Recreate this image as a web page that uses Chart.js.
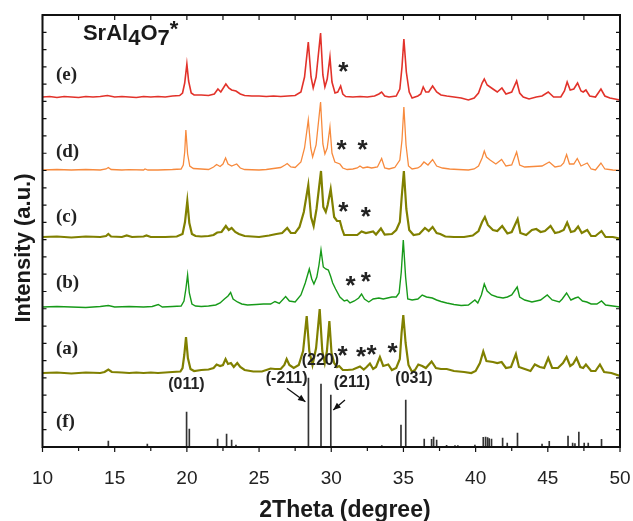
<!DOCTYPE html>
<html>
<head>
<meta charset="utf-8">
<script src="https://cdn.jsdelivr.net/npm/chart.js@4.4.1/dist/chart.umd.min.js"></script>
<style>
  html, body { margin: 0; padding: 0; background: #fff; }
  #wrap { width: 633px; height: 521px; }
</style>
</head>
<body>
<div id="wrap"><canvas id="xrd" width="633" height="521"></canvas></div>
<script>
// XRD patterns, [2theta, intensity above own baseline]
const patternA = [[10,0],[11,0.5],[12,-0.5],[13,0.5],[14,0],[14.3,1],[14.56,3.5],[14.8,1],[15.5,0.5],[16,0],[16.5,0.5],[17,0],[17.5,0.5],[18,0],[18.5,0.5],[19,1],[19.55,1.5],[19.7,5],[19.82,18],[19.94,36],[20.07,15],[20.25,4],[20.5,2],[21,3],[21.5,3.5],[21.85,5],[22.06,8.5],[22.3,7],[22.5,8],[22.68,14],[22.85,9],[23.05,10],[23.25,6],[23.49,10],[23.7,6],[24,3],[24.6,1.5],[25.2,1.5],[25.8,4.5],[26.1,4],[26.5,4],[26.75,8],[26.91,14],[27.1,8],[27.4,5],[27.75,8],[28.05,22],[28.3,57],[28.48,22],[28.7,8],[28.95,25],[29.2,64],[29.38,22],[29.55,10],[29.7,22],[29.87,52],[30.02,20],[30.2,10],[30.4,6],[30.55,7],[30.8,3],[31.1,3],[31.5,3.5],[31.99,6.5],[32.25,3.5],[32.45,6],[32.68,9.5],[32.9,4],[33.1,6],[33.37,16],[33.6,7],[33.95,8.5],[34.2,3],[34.5,5],[34.75,14],[34.87,40],[34.99,58],[35.15,30],[35.35,8],[35.6,1],[35.8,3],[36.03,8.5],[36.3,7],[36.55,5],[36.95,11.5],[37.25,5],[37.6,4],[38,4],[38.5,2],[39.2,1],[39.7,0],[40,2],[40.3,10],[40.53,21.5],[40.75,12],[41.2,11],[41.5,10],[41.8,11],[42.1,5],[42.45,6],[42.79,19],[43,6],[43.4,4],[43.8,2],[44.1,8.5],[44.45,6],[44.75,5],[45.03,15],[45.3,5],[45.7,5],[46.05,10],[46.3,16],[46.55,7],[46.75,9],[46.99,15],[47.25,6],[47.45,5],[47.64,8.5],[48,2],[48.3,2],[48.61,8.5],[48.9,1],[49.4,0],[50,-3]];

const patternB = [[10,0],[11,0.5],[12,0],[13,-0.5],[14,0.5],[14.56,1.5],[15,0],[16,0.5],[17,0],[17.6,0.5],[18.02,2.5],[18.3,0],[19,0.5],[19.6,1],[19.8,6],[19.93,18],[20.05,32],[20.17,14],[20.35,3],[20.6,1],[21,0.5],[21.5,1],[22,2],[22.3,4],[22.6,8],[22.85,11],[23.03,14.5],[23.2,8],[23.5,5],[23.8,3],[24.2,2],[24.8,2.5],[25.3,3],[25.8,3],[26.1,5.5],[26.4,3.5],[26.84,10.5],[27.1,6],[27.5,5],[27.9,12],[28.2,24],[28.48,38],[28.65,28],[28.8,23],[29,30],[29.15,42],[29.29,57],[29.45,40],[29.62,38],[29.8,37],[29.95,31],[30.1,24],[30.3,18],[30.6,10],[30.9,6],[31.1,7],[31.3,4],[31.6,6],[31.9,9],[32.1,13],[32.3,8],[32.6,5],[32.9,8],[33.3,9],[33.6,8],[33.9,9],[34.2,10],[34.5,10],[34.7,14],[34.85,35],[34.99,67],[35.15,30],[35.3,8],[35.6,7],[36,8],[36.3,12],[36.6,10],[37,9],[37.3,7],[37.6,5.5],[38,4],[38.5,2.5],[39,1.5],[39.5,2],[39.95,7],[40.15,4],[40.4,12],[40.6,23],[40.8,16],[41.1,12],[41.5,10],[41.9,9],[42.2,10],[42.5,12],[42.88,20],[43.05,10],[43.4,7],[43.9,5],[44.5,7],[44.96,12],[45.3,7],[45.8,5],[46,8],[46.3,14],[46.6,7],[46.9,9],[47.1,10],[47.4,6],[47.7,5],[48,3],[48.4,3],[48.72,6],[49,2],[49.5,1],[50,0]];

const patternC = [[10,0],[11,0.5],[12,-0.5],[13,0.5],[14,0],[14.4,1],[14.56,3],[14.75,0.5],[15.5,0],[15.83,1.5],[16.2,0],[17,0.5],[17.2,1.5],[17.5,0],[18.5,0],[19.3,0.5],[19.7,3],[19.87,15],[20.03,36],[20.17,14],[20.35,3],[20.6,1],[21,0.5],[21.5,1],[21.85,2],[22.1,4.5],[22.4,5],[22.7,11],[22.9,7],[23.1,9],[23.35,5],[23.6,3],[24,1],[25,0],[25.7,1.5],[26.2,3],[26.6,4],[26.95,9],[27.2,4],[27.5,4],[27.8,10],[28.1,25],[28.41,52],[28.6,20],[28.78,11],[28.98,28],[29.29,66],[29.45,30],[29.62,25],[29.75,32],[29.96,48],[30.2,20],[30.4,16],[30.6,16],[30.75,8],[30.9,2],[31.2,2],[31.8,2],[32.1,5.5],[32.4,4],[32.9,5.5],[33.1,2.5],[33.44,8.5],[33.7,2.5],[34.2,3],[34.5,7],[34.75,15],[34.88,40],[35.03,66],[35.2,28],[35.4,7],[35.7,2],[36.1,3],[36.49,9],[36.75,6],[37.02,10],[37.3,4],[37.55,3],[37.9,0.5],[38.5,0],[39.2,0],[39.8,1.5],[40.2,6],[40.45,15],[40.64,20],[40.85,12],[41.2,7],[41.5,6],[41.84,11],[42.2,3.5],[42.5,5],[42.91,18],[43.1,4],[43.5,2],[43.9,7],[44.2,8],[44.5,5],[44.8,6],[45.19,11],[45.5,4],[45.8,5],[46.1,7],[46.34,14.5],[46.6,5],[46.85,6],[47.1,10.5],[47.35,4],[47.73,7],[48,1],[48.3,1],[48.72,6],[49,0],[49.5,0],[50,-1.5]];

const patternD = [[10,0],[11,0.5],[12,0],[13,0.5],[14,0],[14.4,1],[14.56,2.5],[14.75,0.5],[15.5,0],[16,0.3],[17,0],[17.1,1],[17.3,0],[18,0],[19,0.5],[19.6,1],[19.75,5],[19.85,18],[19.93,40],[20.05,16],[20.2,4],[20.45,1.5],[21,1],[21.5,0.5],[21.85,3],[22.06,5.5],[22.3,3.5],[22.5,6],[22.68,12],[22.85,6],[23.1,4],[23.45,6],[23.7,2],[24,0.5],[25,0],[25.5,0.5],[26,1.5],[26.5,2.5],[26.8,5],[26.95,6.5],[27.2,3],[27.5,2.5],[27.9,8],[28.15,22],[28.41,50],[28.58,22],[28.71,13],[28.95,25],[29.26,68],[29.42,26],[29.56,16],[29.72,22],[29.91,43],[30.05,17],[30.25,8],[30.6,6],[30.8,2],[31.1,0.5],[31.5,1],[31.8,2],[31.99,4],[32.2,2],[32.5,3],[32.8,2],[33.2,3],[33.49,11.5],[33.7,2],[34,1],[34.4,2.5],[34.75,10],[34.9,30],[35.03,63],[35.18,25],[35.35,4],[35.6,1],[36,2],[36.2,4],[36.42,8],[36.7,5],[37.02,10.5],[37.3,4],[37.7,2],[38.2,1],[38.8,0.5],[39.5,0],[39.9,1],[40.2,4],[40.45,12],[40.6,19],[40.75,13],[41,10],[41.4,6],[41.8,10.5],[42.1,4],[42.5,5],[42.84,18],[43.05,5],[43.4,3],[44,3.5],[44.6,4],[45.1,8],[45.5,3],[45.9,4],[46.1,7],[46.3,15.5],[46.5,6],[46.8,6],[47.04,11.5],[47.3,4],[47.73,7],[48,1],[48.3,0],[48.68,7],[48.95,1],[49.5,0],[50,-0.5]];

const patternE = [[10,0],[10.5,0.5],[11,-0.5],[11.5,0.5],[12,0],[12.5,-0.5],[13,0.5],[13.5,0],[14,0.5],[14.5,1.5],[15,0],[15.5,0.5],[16,0],[16.5,-0.5],[17,0.5],[17.5,0],[18,0.5],[18.5,0],[19,1],[19.5,1.5],[19.7,4],[19.85,14],[20,33],[20.12,16],[20.3,4],[20.5,2],[21,2],[21.5,1.5],[21.9,3],[22.15,8],[22.35,5],[22.7,13],[22.9,9],[23.1,7],[23.4,6],[23.7,3],[24,1.5],[24.5,1],[25,1],[25.5,0.5],[26,1],[26.5,0.5],[27,1],[27.5,1.5],[27.9,5],[28.15,20],[28.41,55],[28.6,20],[28.75,9],[28.95,20],[29.26,64],[29.42,22],[29.56,10],[29.72,18],[29.91,40],[30.05,15],[30.26,4],[30.45,5],[30.65,11],[30.8,3],[31,0.5],[31.5,0],[32,0.5],[32.5,0],[33,1],[33.3,3],[33.49,5],[33.7,1],[34,0],[34.5,1],[34.75,8],[34.9,30],[35.03,58],[35.2,25],[35.4,5],[35.6,-1],[36,1],[36.2,3],[36.37,10],[36.55,5],[36.75,5],[37.02,11],[37.3,5],[37.6,2],[38,1],[38.5,0],[39,-1],[39.5,-3],[39.9,-1],[40.2,4],[40.45,14],[40.6,18],[40.8,12],[41.2,8],[41.5,5],[41.82,9],[42.1,3],[42.5,5],[42.84,16],[43.05,4],[43.3,0],[43.7,-2],[44.2,0],[44.6,1],[45.03,5],[45.4,0],[45.9,0],[46.15,6],[46.34,15],[46.55,7],[46.8,8],[47.06,14],[47.3,6],[47.45,5],[47.64,7],[47.9,1],[48.3,0],[48.68,8],[48.95,1],[49.3,-1],[50,-3]];

// reference stick pattern (f)
const refPeaks = [14.56,17.26,19.98,20.17,22.13,22.75,23.1,23.4,28.42,29.29,29.97,33.5,34.83,35.16,36.44,36.95,37.09,37.3,37.99,38.57,38.77,39.95,40.53,40.69,40.83,40.94,41.1,41.87,42.19,42.9,44.6,45.1,46.4,46.72,46.88,47.15,47.52,47.8,48.72];
const refHeights = [6,3,35,18,8,13,7,2,69,63,52,1.5,22,47,8,7.7,10,7,1.7,1.5,1.5,2,9.7,10,9.5,8.5,8,9,4,14,3,5.7,11,4,3.5,15,4,4,7.7];

// vertical offsets of the stacked curves
const seriesNames = ['(a)', '(b)', '(c)', '(d)', '(e)'];
const offsets = [74, 140, 210, 277, 350];
const colors = ['#808000', '#179a19', '#808000', '#f78a3d', '#e2322a'];
const widths = [2.2, 1.4, 2.2, 1.3, 1.6];

const xTicks = [10, 15, 20, 25, 30, 35, 40, 45, 50];
const yMax = 432, yStep = 17.28;

// text decorations, positions in data units
const curveLabels = [['(e)', 372], ['(d)', 295], ['(c)', 230], ['(b)', 164], ['(a)', 98], ['(f)', 25]];
const stars = [[30.83, 382], [30.72, 304], [32.17, 304], [30.83, 242], [32.4, 237], [31.34, 168], [32.4, 172], [30.79, 98], [32.06, 97], [32.8, 99], [34.25, 101]];
const hklLabels = [['(011)', 19.97, 62], ['(-211)', 26.91, 68], ['(220)', 29.25, 86], ['(211)', 31.43, 64.5], ['(031)', 35.73, 68]];
const arrows = [[26.93, 58.7, 28.21, 45.3], [30.95, 47, 30.14, 37]];

const datasets = [patternA, patternB, patternC, patternD, patternE].map((p, i) => ({
    type: 'line',
    label: seriesNames[i],
    data: p.map(pt => ({ x: pt[0], y: pt[1] + offsets[i] })),
    borderColor: colors[i],
    borderWidth: widths[i],
    pointRadius: 0,
    tension: 0,
    fill: false
}));
datasets.push({
    type: 'bar',
    label: '(f)',
    data: refPeaks.map((x, i) => ({ x: x, y: refHeights[i] })),
    backgroundColor: '#333',
    barThickness: 1,
    borderWidth: 0
});

const decor = {
    id: 'decor',
    afterDraw(chart) {
        const ctx = chart.ctx, a = chart.chartArea, xs = chart.scales.x, ys = chart.scales.y;
        ctx.save();
        // frame
        ctx.strokeStyle = '#111';
        ctx.lineWidth = 2;
        ctx.strokeRect(a.left, a.top, a.right - a.left, a.bottom - a.top);
        // tick marks
        ctx.lineWidth = 1.2;
        ctx.beginPath();
        for (let t = xs.min; t <= xs.max + 0.01; t += 2.5) {
            const px = xs.getPixelForValue(t);
            const len = (t % 5 === 0) ? 5 : 4;
            ctx.moveTo(px, a.bottom); ctx.lineTo(px, a.bottom + len);
            ctx.moveTo(px, a.top); ctx.lineTo(px, a.top + 5);
        }
        for (let v = 0; v <= yMax + 0.01; v += yStep) {
            const py = ys.getPixelForValue(v);
            ctx.moveTo(a.left, py); ctx.lineTo(a.left + 4, py);
            ctx.moveTo(a.right, py); ctx.lineTo(a.right - 4, py);
        }
        ctx.stroke();

        // curve labels
        ctx.fillStyle = '#222';
        ctx.font = 'bold 19px "Liberation Serif"';
        ctx.textAlign = 'left';
        ctx.textBaseline = 'middle';
        curveLabels.forEach(l => ctx.fillText(l[0], xs.getPixelForValue(10.93), ys.getPixelForValue(l[1])));

        // asterisks
        ctx.font = 'bold 26px "Liberation Sans"';
        ctx.textAlign = 'center';
        ctx.textBaseline = 'alphabetic';
        stars.forEach(s => ctx.fillText('*', xs.getPixelForValue(s[0]), ys.getPixelForValue(s[1]) + 15));

        // hkl labels
        ctx.font = 'bold 16px "Liberation Sans"';
        ctx.textBaseline = 'middle';
        hklLabels.forEach(h => ctx.fillText(h[0], xs.getPixelForValue(h[1]), ys.getPixelForValue(h[2])));

        // arrows
        ctx.strokeStyle = '#111';
        ctx.fillStyle = '#111';
        ctx.lineWidth = 1.3;
        arrows.forEach(ar => {
            const x0 = xs.getPixelForValue(ar[0]), y0 = ys.getPixelForValue(ar[1]);
            const x1 = xs.getPixelForValue(ar[2]), y1 = ys.getPixelForValue(ar[3]);
            const ang = Math.atan2(y1 - y0, x1 - x0);
            ctx.beginPath(); ctx.moveTo(x0, y0); ctx.lineTo(x1, y1); ctx.stroke();
            ctx.beginPath();
            ctx.moveTo(x1, y1);
            ctx.lineTo(x1 - 8 * Math.cos(ang - 0.4), y1 - 8 * Math.sin(ang - 0.4));
            ctx.lineTo(x1 - 8 * Math.cos(ang + 0.4), y1 - 8 * Math.sin(ang + 0.4));
            ctx.closePath(); ctx.fill();
        });

        // title SrAl4O7*
        ctx.fillStyle = '#1a1a1a';
        ctx.textAlign = 'left';
        ctx.textBaseline = 'alphabetic';
        let tx = xs.getPixelForValue(12.8), ty = ys.getPixelForValue(407);
        const parts = [['SrAl', 0], ['4', 5], ['O', 0], ['7', 5], ['*', -4]];
        ctx.font = 'bold 22px "Liberation Sans"';
        parts.forEach(p => {
            ctx.fillText(p[0], tx, ty + p[1]);
            tx += ctx.measureText(p[0]).width;
        });

        // axis titles
        ctx.fillStyle = '#1a1a1a';
        ctx.font = 'bold 23px "Liberation Sans"';
        ctx.textAlign = 'center';
        ctx.fillText('2Theta (degree)', xs.getPixelForValue(30.95), 517);
        ctx.save();
        ctx.translate(30, (a.top + a.bottom) / 2 + 17);
        ctx.rotate(-Math.PI / 2);
        ctx.font = 'bold 22px "Liberation Sans"';
        ctx.fillText('Intensity (a.u.)', 0, 0);
        ctx.restore();
        ctx.restore();
    }
};

new Chart(document.getElementById('xrd'), {
    type: 'line',
    data: { datasets: datasets },
    options: {
        responsive: false,
        animation: false,
        layout: { padding: { top: 15, right: 13, left: 0, bottom: 0 } },
        plugins: { legend: { display: false }, tooltip: { enabled: false } },
        scales: {
            x: {
                type: 'linear',
                min: 10, max: 50,
                offset: false,
                afterBuildTicks: s => { s.ticks = xTicks.map(v => ({ value: v })); },
                afterFit: s => { s.height = 74; s.paddingLeft = 0; s.paddingRight = 0; },
                grid: { display: false, drawTicks: false },
                border: { display: false },
                ticks: { color: '#222', padding: 20, font: { size: 19, family: '"Liberation Sans"' }, maxRotation: 0 }
            },
            y: {
                min: 0, max: yMax,
                afterFit: s => { s.width = 42.5; },
                grid: { display: false, drawTicks: false },
                border: { display: false },
                ticks: { display: false }
            }
        }
    },
    plugins: [decor]
});
</script>
</body>
</html>
